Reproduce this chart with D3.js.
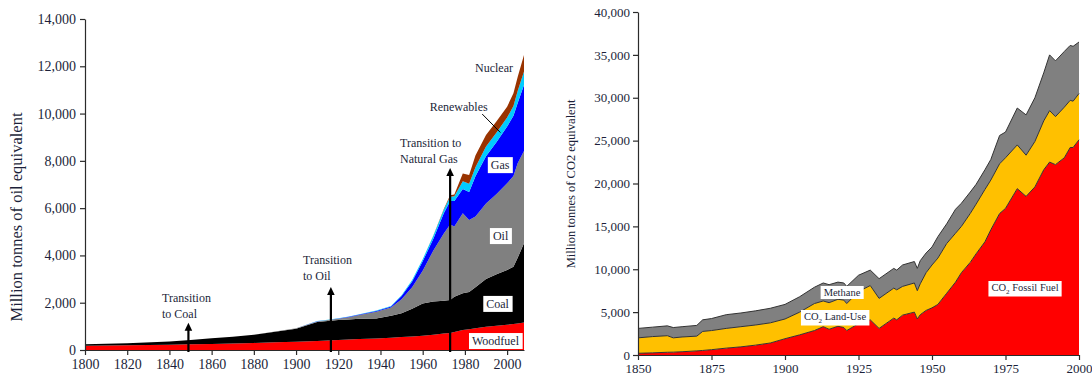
<!DOCTYPE html>
<html>
<head>
<meta charset="utf-8">
<script src="https://cdn.jsdelivr.net/npm/d3@7"></script>
<style>
  html, body { margin: 0; padding: 0; background: #fff; }
  svg { display: block; }
  text { font-family: "Liberation Serif", "Times New Roman", serif; fill: #1c1f3a; }
</style>
</head>
<body>
<svg id="chart" width="1092" height="378"></svg>
<script>
// ---------- World energy consumption (million tonnes of oil equivalent) ----------
const leftYears = [1800,1820,1840,1850,1860,1870,1880,1890,1900,
  1910,1915,1920,1925,1930,1938,1945,1950,1955,1960,
  1965,1970,1973,1975,1979,1982,1985,1990,1995,2000,2003,2005,2008];
const woodfuel   = [180,200,225,240,255,275,300,325,350,
  380,400,420,440,460,490,520,550,570,600,
  650,700,720,760,850,880,920,980,1030,1070,1100,1120,1160];
const coal       = [60,85,135,180,240,285,340,450,550,
  800,830,850,850,860,840,930,1000,1180,1370,
  1400,1380,1395,1490,1550,1570,1730,2020,2170,2310,2425,2780,3350];
const oil        = [0,0,0,0,0,0,0,5,15,
  30,35,50,100,160,290,350,600,900,1380,
  2150,2850,3190,2970,3380,3050,3000,3200,3400,3670,3830,4000,3910];
const gas        = [0,0,0,0,0,0,0,0,5,
  5,8,12,15,20,30,40,130,250,400,
  500,850,1000,1080,1030,1180,1700,1990,2200,2400,2550,2550,2790];
const renewables = [0,0,0,0,0,0,0,0,5,
  8,10,12,14,16,18,20,40,60,90,
  120,150,180,200,330,350,380,420,400,380,420,500,565];
const nuclear    = [0,0,0,0,0,0,0,0,0,
  0,0,0,0,0,0,0,0,0,0,
  10,30,60,80,330,370,500,480,480,460,530,600,700];
const leftKeys   = ["Woodfuel","Coal","Oil","Gas","Renewables","Nuclear"];
const leftYTicks = [0,2000,4000,6000,8000,10000,12000,14000];
const leftXTicks = [1800,1820,1840,1860,1880,1900,1920,1940,1960,1980,2000];
const transitions = [
  { year: 1849,   top: 1150, lines: ["Transition", "to Coal"] },
  { year: 1916.5, top: 2660, lines: ["Transition", "to Oil"] },
  { year: 1973,   top: 7700, lines: ["Transition to", "Natural Gas"] }
];

// ---------- Greenhouse gas emissions (million tonnes of CO2 equivalent) ----------
const rightYears = [1850,1855,1860,1862,1865,1870,1872,1875,1880,1885,
  1890,1895,1900,1905,1910,1913,1915,1918,1920,1921,
  1925,1929,1932,1937,1938,1940,1944,1945,1946,1948,
  1950,1952,1955,1958,1960,1963,1965,1968,1970,1973,
  1975,1979,1982,1985,1988,1990,1992,1995,1997,1998,2000];
const co2Fossil = [200,250,320,330,380,480,530,620,800,950,
  1150,1400,1900,2350,2850,3300,3000,3350,3200,2850,
  3650,4100,3100,4300,4100,4650,5000,4200,4700,5200,
  5500,5900,7200,8500,9600,10800,11800,13200,14600,16500,
  17100,19400,18500,19600,21600,22500,22200,23000,24200,24200,25100];
const co2LandUse = [1800,1900,1930,1670,1720,1720,2220,2230,2300,2350,
  2350,2350,2300,2650,3150,3000,3100,3150,3200,3150,
  3750,4000,3500,3500,3500,3350,3400,3300,3600,4400,
  5000,5400,5800,5700,5400,5700,5800,6100,5800,5800,
  5900,5100,4800,5300,5700,6000,5600,5900,5500,5400,5400];
const methane = [1100,1100,1150,1200,1200,1250,1350,1400,1600,1600,
  1650,1700,1700,1800,1900,2100,2100,2000,2000,2000,
  1900,1800,2300,2300,2300,2500,2500,2600,2700,2300,
  2100,2500,2300,2800,2700,2500,2300,2300,2400,3300,
  3000,4300,4700,5100,5600,6500,6500,6500,6400,6400,6000];
const rightKeys   = ["Fossil","LandUse","Methane"];
const rightYTicks = [0,5000,10000,15000,20000,25000,30000,35000,40000];
const rightXTicks = [1850,1875,1900,1925,1950,1975,2000];

const svg = d3.select("#chart");
const fmt = d3.format(",");

function styleAxis(g, size) {
  g.select(".domain").attr("stroke", "#2b2b2b").attr("stroke-width", 1.2);
  g.selectAll(".tick line").attr("stroke", "#2b2b2b").attr("stroke-width", 1.2);
  g.selectAll(".tick text").style("font-size", size + "px").attr("fill", "#1c1f3a");
}

function boxedLabel(g, x, y, build, size, anchor) {
  const t = g.append("text").attr("x", x).attr("y", y)
    .attr("text-anchor", anchor || "middle").style("font-size", size + "px");
  build(t);
  const b = t.node().getBBox();
  g.insert("rect", () => t.node())
    .attr("x", b.x - 3).attr("y", b.y - 1)
    .attr("width", b.width + 6).attr("height", b.height + 2)
    .attr("fill", "#fff");
  return t;
}

// ================= Left panel =================
const xL = d3.scaleLinear().domain([1800, 2008]).range([85, 524]);
const yL = d3.scaleLinear().domain([0, 14000]).range([350, 19]);
const leftRows = leftYears.map((yr, i) => ({
  year: yr, Woodfuel: woodfuel[i], Coal: coal[i], Oil: oil[i],
  Gas: gas[i], Renewables: renewables[i], Nuclear: nuclear[i]
}));
const leftColors = {
  Woodfuel: "#ff0000", Coal: "#000000", Oil: "#808080",
  Gas: "#0000ff", Renewables: "#00ccff", Nuclear: "#993300"
};
const leftStack = d3.stack().keys(leftKeys)(leftRows);
const areaL = d3.area()
  .x(d => xL(d.data.year)).y0(d => yL(d[0])).y1(d => yL(d[1]));

const gL = svg.append("g");
gL.selectAll("path.layer").data(leftStack).join("path")
  .attr("class", "layer")
  .attr("fill", d => leftColors[d.key])
  .attr("d", areaL);

// axes
const axL = gL.append("g").attr("transform", "translate(85,0)")
  .call(d3.axisLeft(yL).tickValues(leftYTicks).tickFormat(fmt).tickSize(5).tickSizeOuter(0).tickPadding(4));
styleAxis(axL, 14);
const axLb = gL.append("g").attr("transform", "translate(0,350)")
  .call(d3.axisBottom(xL).tickValues(leftXTicks).tickFormat(d3.format("d")).tickSize(5).tickSizeOuter(0).tickPadding(4));
styleAxis(axLb, 14);

gL.append("text")
  .attr("transform", "translate(22,217) rotate(-90)")
  .attr("text-anchor", "middle").style("font-size", "16.5px")
  .text("Million tonnes of oil equivalent");

// transition arrows and notes
transitions.forEach(tr => {
  const x = xL(tr.year), tip = yL(tr.top);
  gL.append("line").attr("x1", x).attr("x2", x)
    .attr("y1", yL(0) + 2).attr("y2", tip + 6)
    .attr("stroke", "#000").attr("stroke-width", 2.2);
  gL.append("path")
    .attr("d", `M${x},${tip} L${x - 3.8},${tip + 8} L${x + 3.8},${tip + 8} Z`)
    .attr("fill", "#000");
});
const noteStyle = { size: 12, lh: 16 };
[[162, 302, transitions[0].lines], [303, 264, transitions[1].lines], [400, 147, transitions[2].lines]]
  .forEach(([x, y, lines]) => {
    const t = gL.append("text").attr("x", x).attr("y", y).style("font-size", noteStyle.size + "px");
    lines.forEach((s, i) => t.append("tspan").attr("x", x).attr("dy", i ? noteStyle.lh : 0).text(s));
  });

// series labels
[["Gas", 1996.7, 7650], ["Oil", 1996.9, 4650], ["Coal", 1995.5, 1780]].forEach(([s, yr, v]) =>
  boxedLabel(gL, xL(yr), yL(v), t => t.text(s), 12));
boxedLabel(gL, xL(1994.5), yL(210), t => t.text("Woodfuel"), 12);
gL.append("text").attr("x", xL(1984.8)).attr("y", yL(11760)).style("font-size", "12px").text("Nuclear");
gL.append("text").attr("x", xL(1963.3)).attr("y", yL(10110)).style("font-size", "12px").text("Renewables");
gL.append("line")
  .attr("x1", xL(1988.2)).attr("y1", yL(9980))
  .attr("x2", xL(1996.8)).attr("y2", yL(9200))
  .attr("stroke", "#000").attr("stroke-width", 1);

// ================= Right panel =================
const xR = d3.scaleLinear().domain([1850, 2000]).range([638, 1079]);
const yR = d3.scaleLinear().domain([0, 40000]).range([355, 12]);
const rightRows = rightYears.map((yr, i) => ({
  year: yr, Fossil: co2Fossil[i], LandUse: co2LandUse[i], Methane: methane[i]
}));
const rightColors = { Fossil: "#ff0000", LandUse: "#ffc000", Methane: "#808080" };
const rightStack = d3.stack().keys(rightKeys)(rightRows);
const areaR = d3.area()
  .x(d => xR(d.data.year)).y0(d => yR(d[0])).y1(d => yR(d[1]));
const topLine = d3.line().x(d => xR(d.data.year)).y(d => yR(d[1]));

const gR = svg.append("g");
gR.selectAll("path.layer").data(rightStack).join("path")
  .attr("class", "layer")
  .attr("fill", d => rightColors[d.key])
  .attr("d", areaR);
gR.selectAll("path.edge").data(rightStack).join("path")
  .attr("class", "edge")
  .attr("fill", "none").attr("stroke", "#333").attr("stroke-width", 1)
  .attr("d", topLine);

const axR = gR.append("g").attr("transform", "translate(638,0)")
  .call(d3.axisLeft(yR).tickValues(rightYTicks).tickFormat(fmt).tickSize(5).tickSizeOuter(0).tickPadding(3));
styleAxis(axR, 13);
const axRb = gR.append("g").attr("transform", "translate(0,355)")
  .call(d3.axisBottom(xR).tickValues(rightXTicks).tickFormat(d3.format("d")).tickSize(5).tickSizeOuter(0).tickPadding(4));
styleAxis(axRb, 13);

gR.append("text")
  .attr("transform", "translate(575,184) rotate(-90)")
  .attr("text-anchor", "middle").style("font-size", "12.5px")
  .text("Million tonnes of CO2 equivalent");

function co2Label(t, rest) {
  t.append("tspan").text("CO");
  t.append("tspan").attr("dy", 2.5).style("font-size", "7px").text("2");
  t.append("tspan").attr("dy", -2.5).text(" " + rest);
}
boxedLabel(gR, 842, 296, t => t.text("Methane"), 10.5);
boxedLabel(gR, 835, 320, t => co2Label(t, "Land-Use"), 10.5);
boxedLabel(gR, 1025, 291, t => co2Label(t, "Fossil Fuel"), 10.5);
</script>
</body>
</html>
